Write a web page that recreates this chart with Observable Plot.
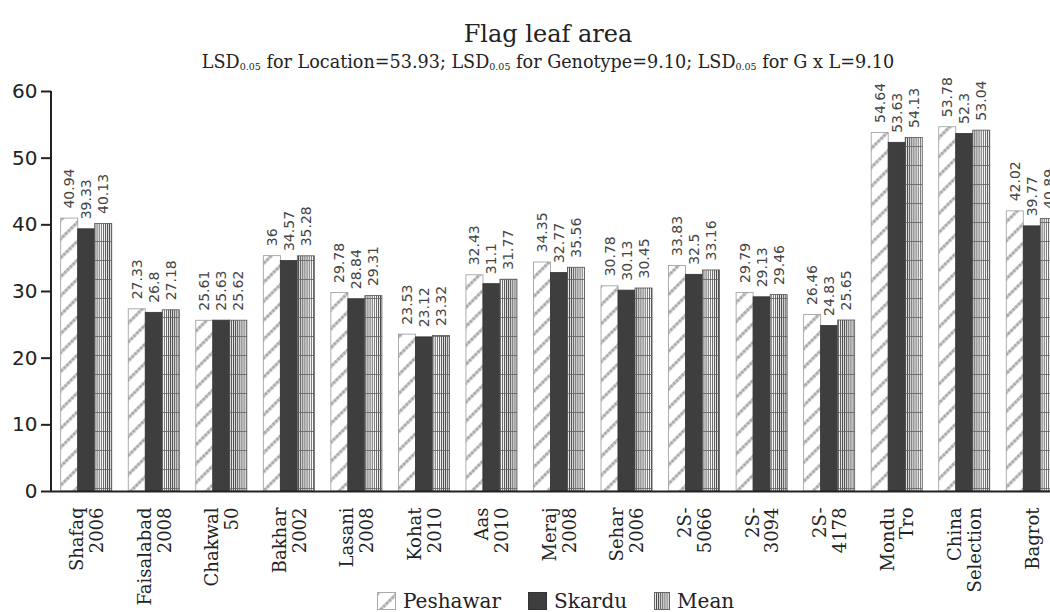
<!DOCTYPE html>
<html>
<head>
<meta charset="utf-8">
<script src="https://cdn.jsdelivr.net/npm/d3@7"></script>
<script src="https://cdn.jsdelivr.net/npm/@observablehq/plot@0.6"></script>
<style>
  html, body { margin: 0; padding: 0; background: #fff; overflow: hidden; width: 1050px; height: 612px; }
  #wrap { position: relative; width: 1050px; height: 612px; overflow: hidden; }
  #title { position: absolute; left: 0; top: 22px; width: 1096px; text-align: center;
           font-family: "DejaVu Serif", serif; font-size: 24px; line-height: 24px; color: #222; }
  #subtitle { position: absolute; left: 0; top: 53px; width: 1096px; text-align: center;
           font-family: "DejaVu Serif", serif; font-size: 17.6px; line-height: 18px; color: #222; }
  #subtitle .s { font-size: 9.5px; vertical-align: -2px; }
  #chart { position: absolute; left: 0; top: 70px; width: 1067px; }
  #chart svg { max-width: none !important; }
  #legend { position: absolute; left: 377px; top: 591px; display: flex; align-items: center;
            font-family: "DejaVu Serif", serif; font-size: 20px; color: #222; line-height: 20px; }
  #legend .item { display: flex; align-items: center; margin-right: 27px; }
  #legend svg { margin-right: 7px; display: block; }
</style>
</head>
<body>
<div id="wrap">
  <div id="title">Flag leaf area</div>
  <div id="subtitle">LSD<span class="s">0.05</span> for Location=53.93; LSD<span class="s">0.05</span> for Genotype=9.10; LSD<span class="s">0.05</span> for G x L=9.10</div>
  <div id="chart"></div>
  <div id="legend"></div>
</div>
<script>
// ---- data ----
const genotypes = ["Shafaq\n2006", "Faisalabad\n2008", "Chakwal\n50", "Bakhar\n2002", "Lasani\n2008",
  "Kohat\n2010", "Aas\n2010", "Meraj\n2008", "Sehar\n2006", "2S-\n5066", "2S-\n3094", "2S-\n4178",
  "Mondu\nTro", "China\nSelection", "Bagrot"];
const seriesNames = ["Peshawar", "Skardu", "Mean"];
// bar heights as drawn
const peshawar = [40.94, 27.33, 25.61, 35.3, 29.78, 23.53, 32.43, 34.35, 30.78, 33.83, 29.79, 26.46, 53.78, 54.64, 42.02];
const skardu   = [39.33, 26.8, 25.63, 34.57, 28.84, 23.12, 31.1, 32.77, 30.13, 32.5, 29.13, 24.83, 52.3, 53.63, 39.77];
const mean     = [40.13, 27.18, 25.62, 35.28, 29.31, 23.32, 31.77, 33.56, 30.45, 33.16, 29.46, 25.65, 53.04, 54.13, 40.89];
// value labels as printed
const peshawarLabels = ["40.94", "27.33", "25.61", "36", "29.78", "23.53", "32.43", "34.35", "30.78", "33.83", "29.79", "26.46", "54.64", "53.78", "42.02"];
const skarduLabels   = ["39.33", "26.8", "25.63", "34.57", "28.84", "23.12", "31.1", "32.77", "30.13", "32.5", "29.13", "24.83", "53.63", "52.3", "39.77"];
const meanLabels     = ["40.13", "27.18", "25.62", "35.28", "29.31", "23.32", "31.77", "35.56", "30.45", "33.16", "29.46", "25.65", "54.13", "53.04", "40.89"];
const yTicks = [0, 10, 20, 30, 40, 50, 60];

const valuesBySeries = {Peshawar: peshawar, Skardu: skardu, Mean: mean};
const labelsBySeries = {Peshawar: peshawarLabels, Skardu: skarduLabels, Mean: meanLabels};
const rows = [];
seriesNames.forEach(s => genotypes.forEach((g, i) => rows.push({
  genotype: g, series: s, value: valuesBySeries[s][i], label: labelsBySeries[s][i]
})));

// ---- styles per series ----
const barStyle = {
  Peshawar: {fill: "url(#pHatch)", stroke: "#9a9a9a", strokeWidth: 0.8, insetLeft: 0, insetRight: 34, dx: -17},
  Skardu:   {fill: "#3e3e3e", stroke: "#333", strokeWidth: 0.8, insetLeft: 17, insetRight: 17, dx: 0},
  Mean:     {fill: "url(#mLines)", stroke: "#555", strokeWidth: 0.8, insetLeft: 34, insetRight: 0, dx: 17}
};

const marks = [];
seriesNames.forEach(s => {
  const st = barStyle[s];
  const d = rows.filter(r => r.series === s);
  marks.push(Plot.barY(d, {x: "genotype", y: "value", fill: st.fill, stroke: st.stroke,
    strokeWidth: st.strokeWidth, insetLeft: st.insetLeft, insetRight: st.insetRight}));
  marks.push(Plot.text(d, {x: "genotype", y: "value", text: "label", rotate: -90, textAnchor: "start",
    dx: st.dx, dy: -10, fontSize: 14, fontFamily: "DejaVu Sans", fill: "#454545"}));
});

marks.push(Plot.ruleY([0], {stroke: "#222", strokeWidth: 2}));
marks.push((index, scales, values, dims) => {
  const line = d3.create("svg:line")
    .attr("x1", dims.marginLeft).attr("x2", dims.marginLeft)
    .attr("y1", scales.y(d3.max(yTicks))).attr("y2", scales.y(0) + 1)
    .attr("stroke", "#222").attr("stroke-width", 2);
  return line.node();
});
marks.push(Plot.axisY({ticks: yTicks, tickSize: 10, tickPadding: 4, strokeWidth: 2, fontSize: 20,
  fontFamily: "DejaVu Sans", label: null, color: "#222"}));
marks.push(Plot.axisX({tickSize: 0, tickRotate: -90, textAnchor: "end", lineAnchor: "middle",
  tickPadding: 16, fontSize: 18, fontFamily: "DejaVu Serif", label: null, lineHeight: 1.1, color: "#222"}));

const chart = Plot.plot({
  width: 1067,
  height: 542,
  marginLeft: 51,
  marginRight: 0,
  marginTop: 21,
  marginBottom: 121,
  x: {domain: genotypes, paddingInner: 0.2444, paddingOuter: 0.1437, round: false},
  y: {domain: [0, 60]},
  style: {background: "transparent", overflow: "visible", maxWidth: "none"},
  marks
});

// patterns
const defs = d3.select(chart).insert("defs", ":first-child");
const p = defs.append("pattern").attr("id", "pHatch").attr("patternUnits", "userSpaceOnUse")
  .attr("width", 13.4).attr("height", 20).attr("patternTransform", "rotate(45)");
p.append("rect").attr("width", 13.4).attr("height", 20).attr("fill", "#fff");
p.append("line").attr("x1", 1.6).attr("x2", 1.6).attr("y1", 0).attr("y2", 20)
  .attr("stroke", "#c4c4c4").attr("stroke-width", 3);
p.append("line").attr("x1", 1.6).attr("x2", 1.6).attr("y1", 0).attr("y2", 20)
  .attr("stroke", "#a0a0a0").attr("stroke-width", 3).attr("stroke-dasharray", "1.5 2.5");
const m = defs.append("pattern").attr("id", "mLines").attr("patternUnits", "userSpaceOnUse")
  .attr("width", 2.1).attr("height", 19);
m.append("rect").attr("width", 2.1).attr("height", 19).attr("fill", "#fff");
m.append("line").attr("x1", 0.5).attr("x2", 0.5).attr("y1", 0).attr("y2", 19)
  .attr("stroke", "#222").attr("stroke-width", 0.8);
m.append("line").attr("x1", 0).attr("x2", 2.1).attr("y1", 0.5).attr("y2", 0.5)
  .attr("stroke", "#666").attr("stroke-width", 0.7);

document.getElementById("chart").appendChild(chart);

// legend
const legend = d3.select("#legend");
const swatchSpec = {
  Peshawar: {fill: "url(#pHatch)", stroke: "#aaa", w: 19},
  Skardu: {fill: "#3e3e3e", stroke: "#333", w: 19},
  Mean: {fill: "url(#mLines)", stroke: "#666", w: 16}
};
seriesNames.forEach(s => {
  const it = legend.append("div").attr("class", "item");
  const sv = it.append("svg").attr("width", swatchSpec[s].w).attr("height", 18);
  sv.append("rect").attr("x", 0.5).attr("y", 0.5).attr("width", swatchSpec[s].w - 1).attr("height", 17)
    .attr("fill", swatchSpec[s].fill).attr("stroke", swatchSpec[s].stroke).attr("stroke-width", 1);
  it.append("span").text(s);
});
</script>
</body>
</html>
